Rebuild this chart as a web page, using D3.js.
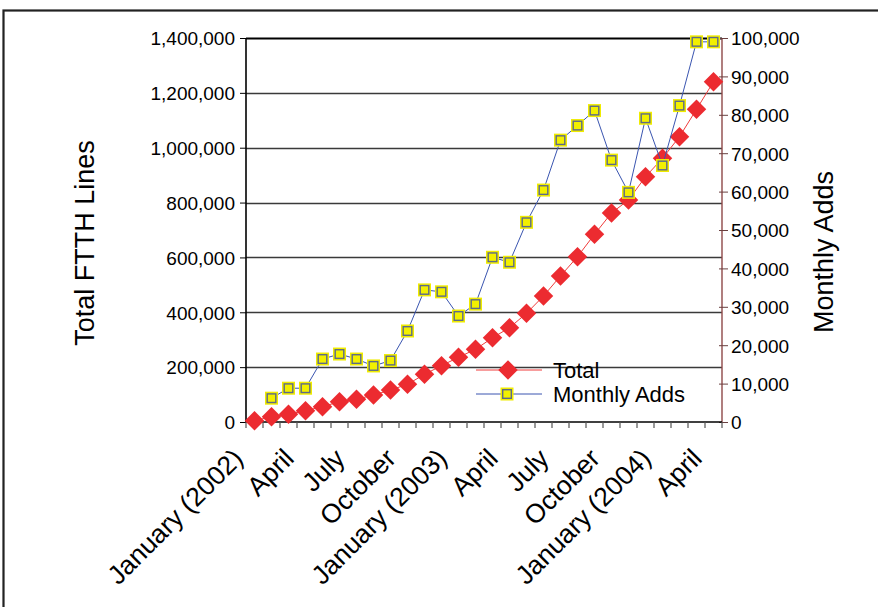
<!DOCTYPE html>
<html>
<head>
<meta charset="utf-8">
<script src="https://cdn.jsdelivr.net/npm/d3@7"></script>
<style>
  body { margin: 0; background: #fff; }
  svg text { font-family: "Liberation Sans", Arial, Helvetica, sans-serif; fill: #000; }
</style>
</head>
<body>
<svg class="chart"></svg>
<script>
// months from January 2002 to April 2004
var months = ["January (2002)", "February", "March", "April", "May", "June", "July", "August",
    "September", "October", "November", "December", "January (2003)", "February", "March", "April",
    "May", "June", "July", "August", "September", "October", "November", "December",
    "January (2004)", "February", "March", "April"];

// cumulative FTTH lines (left axis)
var totalLines = [4700, 19300, 28000, 41200, 55800, 74000, 82800, 98400, 116700, 137400,
    173900, 205300, 235900, 265000, 307000, 343800, 396300, 459400, 532300, 602700,
    684300, 762000, 809400, 894300, 961400, 1040200, 1140000, 1240700];

// monthly additions (right axis), none read for January 2002
var monthlyAdds = [null, 6200, 8800, 8800, 16400, 17700, 16400, 14600, 16000, 23700,
    34400, 33900, 27600, 30700, 42900, 41600, 52000, 60400, 73400, 77200,
    81100, 68200, 59800, 79100, 66800, 82400, 99000, 99000];

var leftTicks = [0, 200000, 400000, 600000, 800000, 1000000, 1200000, 1400000];
var rightTicks = [0, 10000, 20000, 30000, 40000, 50000, 60000, 70000, 80000, 90000, 100000];
var seriesNames = ["Total", "Monthly Adds"];

function show() {

    'use strict';

    var W = 878, H = 607;
    var margin = {top: 38, bottom: 185, left: 246, right: 156},
        width = W - margin.left - margin.right,
        height = H - margin.top - margin.bottom;

    var svg = d3.select(".chart")
        .attr("width", W)
        .attr("height", H);

    // outer frame (runs off the right and bottom of the picture)
    svg.append("rect")
        .attr("x", 3.5).attr("y", 10.5)
        .attr("width", W + 10).attr("height", H + 10)
        .attr("fill", "none")
        .attr("stroke", "#222")
        .attr("stroke-width", 2.2);

    var chart = svg.append("g")
        .attr("transform", "translate(" + margin.left + "," + margin.top + ")");

    var x = d3.scaleBand().domain(d3.range(months.length)).range([0, width]);
    var yL = d3.scaleLinear().domain([0, 1400000]).range([height, 0]);
    var yR = d3.scaleLinear().domain([0, 100000]).range([height, 0]);
    var fmt = d3.format(",");

    function cx(i) { return x(i) + x.bandwidth() / 2; }

    // gridlines
    chart.selectAll(".grid")
        .data(leftTicks.slice(1))
        .enter().append("line")
        .attr("class", "grid")
        .attr("x1", 0).attr("x2", width)
        .attr("y1", function(d) { return Math.round(yL(d)) + 0.5; })
        .attr("y2", function(d) { return Math.round(yL(d)) + 0.5; })
        .attr("stroke", function(d) { return d === 1400000 ? "#000" : "#3a3a3a"; })
        .attr("stroke-width", function(d) { return d === 1400000 ? 1.8 : 1.4; });

    // left axis
    var leftAxis = chart.append("g")
        .call(d3.axisLeft(yL).tickValues(leftTicks).tickFormat(fmt).tickSize(6).tickPadding(5));
    leftAxis.select(".domain").attr("stroke", "#000").attr("stroke-width", 1.6)
        .attr("d", "M0," + height + "V0");
    leftAxis.selectAll("text").style("font-size", "19px").attr("dy", "0.36em");

    // right axis
    var rightAxis = chart.append("g")
        .attr("transform", "translate(" + width + ",0)")
        .call(d3.axisRight(yR).tickValues(rightTicks).tickFormat(fmt).tickSize(6).tickPadding(3));
    rightAxis.select(".domain").attr("stroke", "#8e4848").attr("stroke-width", 1.4)
        .attr("d", "M0," + height + "V0");
    rightAxis.selectAll(".tick line").attr("stroke", "#6a4040").attr("x1", -3);
    rightAxis.selectAll("text").style("font-size", "19px").attr("dy", "0.36em");

    // bottom axis: ticks on the category boundaries
    chart.append("line")
        .attr("x1", 0).attr("x2", width)
        .attr("y1", height).attr("y2", height)
        .attr("stroke", "#000").attr("stroke-width", 1.6);
    chart.selectAll(".xtick")
        .data(d3.range(months.length + 1))
        .enter().append("line")
        .attr("class", "xtick")
        .attr("x1", function(i) { return i * x.step(); })
        .attr("x2", function(i) { return i * x.step(); })
        .attr("y1", height).attr("y2", height + 6)
        .attr("stroke", "#555").attr("stroke-width", 1.2);

    chart.selectAll(".xlabel")
        .data(d3.range(months.length).filter(function(i) { return i % 3 === 0; }))
        .enter().append("text")
        .attr("class", "xlabel")
        .attr("text-anchor", "end")
        .attr("transform", function(i) { return "translate(" + (cx(i) - 10) + "," + (height + 38) + ") rotate(-45)"; })
        .style("font-size", "26.5px")
        .text(function(i) { return months[i]; });

    // axis titles
    chart.append("text")
        .attr("text-anchor", "middle")
        .attr("transform", "translate(" + (94 - margin.left) + "," + (243 - margin.top) + ") rotate(-90)")
        .style("font-size", "27px")
        .text("Total FTTH Lines");
    chart.append("text")
        .attr("text-anchor", "middle")
        .attr("transform", "translate(" + (833 - margin.left) + "," + (252 - margin.top) + ") rotate(-90)")
        .style("font-size", "27px")
        .text("Monthly Adds");

    var diamond = d3.symbol().type(d3.symbolSquare).size(190);

    function drawSquare(g) {
        g.append("rect").attr("x", -6.5).attr("y", -6.5).attr("width", 13).attr("height", 13)
            .attr("fill", "#f0ec00");
        g.append("rect").attr("x", -4.3).attr("y", -4.3).attr("width", 8.6).attr("height", 8.6)
            .attr("fill", "#f2f000").attr("stroke", "#5d6a8a").attr("stroke-width", 1.4);
    }

    // Total series
    var totalLine = d3.line()
        .x(function(d, i) { return cx(i); })
        .y(function(d) { return yL(d); });
    chart.append("path")
        .attr("d", totalLine(totalLines))
        .attr("fill", "none").attr("stroke", "#f03c3c").attr("stroke-width", 1);
    chart.selectAll(".total")
        .data(totalLines)
        .enter().append("path")
        .attr("class", "total")
        .attr("d", diamond)
        .attr("transform", function(d, i) { return "translate(" + cx(i) + "," + yL(d) + ") rotate(45)"; })
        .attr("fill", "#ec2b30");

    // Monthly Adds series
    var addsLine = d3.line()
        .defined(function(d) { return d !== null; })
        .x(function(d, i) { return cx(i); })
        .y(function(d) { return yR(d); });
    chart.append("path")
        .attr("d", addsLine(monthlyAdds))
        .attr("fill", "none").attr("stroke", "#3a55b0").attr("stroke-width", 1);
    chart.selectAll(".adds")
        .data(monthlyAdds.map(function(d, i) { return {v: d, i: i}; }).filter(function(d) { return d.v !== null; }))
        .enter().append("g")
        .attr("class", "adds")
        .attr("transform", function(d) { return "translate(" + cx(d.i) + "," + yR(d.v) + ")"; })
        .each(function() { drawSquare(d3.select(this)); });

    // legend
    var legend = svg.append("g").attr("transform", "translate(476,370)");
    legend.append("line").attr("x1", 0).attr("x2", 66).attr("y1", 0).attr("y2", 0)
        .attr("stroke", "#f03c3c").attr("stroke-width", 1);
    legend.append("path").attr("d", diamond)
        .attr("transform", "translate(32,0) rotate(45)").attr("fill", "#ec2b30");
    legend.append("text").attr("x", 77).attr("y", 8).style("font-size", "22px").text(seriesNames[0]);

    var leg2 = legend.append("g").attr("transform", "translate(0,24)");
    leg2.append("line").attr("x1", 0).attr("x2", 66).attr("y1", 0).attr("y2", 0)
        .attr("stroke", "#3a55b0").attr("stroke-width", 1);
    drawSquare(leg2.append("g").attr("transform", "translate(31,0)"));
    leg2.append("text").attr("x", 77).attr("y", 8).style("font-size", "22px").text(seriesNames[1]);
}

show();
</script>
</body>
</html>
